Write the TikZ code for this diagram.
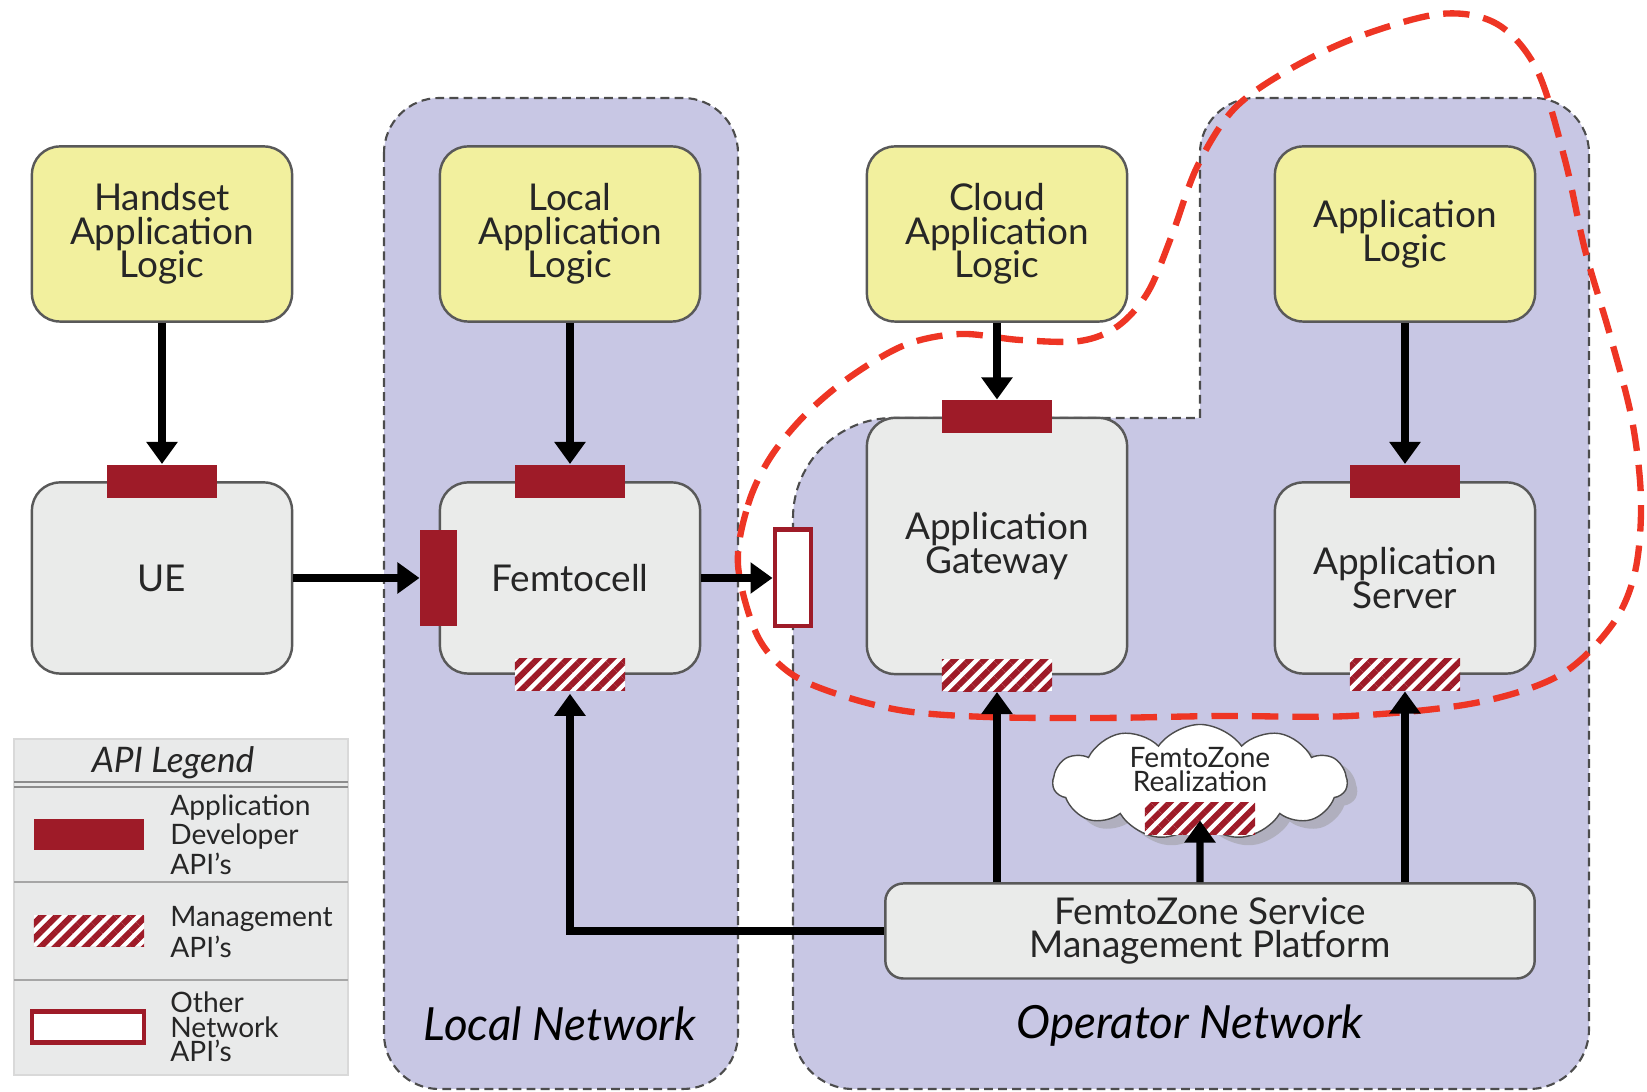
\documentclass[tikz,border=0pt]{standalone}
\usepackage{fontspec}
\setmainfont{Lato}
\usetikzlibrary{arrows.meta, shapes.symbols, shadows, patterns.meta}
\definecolor{apired}{HTML}{9E1B28}
\definecolor{zonered}{HTML}{EE3524}
\definecolor{netblue}{HTML}{C8C7E4}
\definecolor{logicyellow}{HTML}{F2F09E}
\definecolor{boxgrey}{HTML}{EAEBEA}
\definecolor{legendgrey}{HTML}{E9EAEA}
\tikzstyle{box}=[draw=black!65, line width=0.7pt, rounded corners=0.28cm, align=center, minimum width=2.6cm, text=black!85, font=\fontsize{10.5}{9.6}\selectfont]
\tikzstyle{box logic}=[box, fill=logicyellow, minimum height=1.75cm]
\tikzstyle{box node}=[box, fill=boxgrey, minimum height=1.91cm]
\tikzstyle{api dev}=[fill=apired, inner sep=0, minimum width=1.1cm, minimum height=0.33cm]
\tikzstyle{api mgmt}=[inner sep=0, minimum width=1.1cm, minimum height=0.32cm, preaction={fill=white}, pattern={Lines[angle=45, distance=3pt, line width=1.7pt]}, pattern color=apired]
\tikzstyle{api other}=[draw=apired, line width=1.4pt, fill=white, inner sep=0, minimum width=0.36cm, minimum height=0.96cm]
\tikzstyle{region}=[fill=netblue, draw=black!70, line width=0.6pt, dash pattern=on 2.5pt off 1.5pt]
\tikzstyle{zone}=[draw=zonered, line width=1.8pt, dash pattern=on 7.5pt off 4pt]
\tikzstyle{flow}=[line width=2.1pt, -{Triangle[length=0.22cm, width=0.3cm]}]
\tikzstyle{net label}=[font=\fontsize{13}{13}\selectfont\itshape]
\tikzstyle{key text}=[anchor=west, align=left, text=black!85, font=\fontsize{8}{7}\selectfont]

\begin{document}
\begin{tikzpicture}[x=0.01cm, y=-0.01cm]
  \useasboundingbox (0,0) rectangle (1647,1092);

  % NETWORK AREAS
  \draw[region, rounded corners=0.55cm] (384,98) rectangle (738,1089);
  \draw[region] (793,518) .. controls (793,463) and (838,418) .. (893,418)
    -- (1200,418) -- (1200,153) .. controls (1200,123) and (1225,98) .. (1255,98)
    -- (1534,98) .. controls (1564,98) and (1589,123) .. (1589,153)
    -- (1589,1029) .. controls (1589,1062) and (1562,1089) .. (1529,1089)
    -- (853,1089) .. controls (820,1089) and (793,1062) .. (793,1029) -- cycle;
  \node[net label] (local-label) at (560,1024) {Local Network};
  \node[net label] (op-label) at (1190,1026) {Operator Network};

  % LOGIC BOXES
  \foreach \name/\x/\txt in {hand-logic/162/{Handset\\Application\\Logic},
      local-logic/570/{Local\\Application\\Logic},
      cloud-logic/997/{Cloud\\Application\\Logic},
      app-logic/1405/{Application\\Logic}}{
    \node[box logic] (\name) at (\x,234) {\txt};
  }

  % NETWORK ELEMENTS
  \node[box node] (ue) at (162,578) {UE};
  \node[box node] (femto) at (570,578) {Femtocell};
  \node[box node, minimum height=2.56cm] (gw) at (997,546) {Application\\Gateway};
  \node[box node] (server) at (1405,578) {Application\\Server};
  \node[box node, minimum width=6.49cm, minimum height=0.95cm, rounded corners=0.18cm]
    (plat) at (1210,931) {FemtoZone Service\\Management Platform};

  % APIS
  \foreach \n in {ue, femto, gw, server}{
    \node[api dev] (\n-api) at (\n.north) {};
  }
  \foreach \n in {femto, gw, server}{
    \node[api mgmt] (\n-mgmt) at (\n.south) {};
  }
  \node[api dev, minimum width=0.37cm, minimum height=0.96cm] (femto-in) at (femto.west) {};
  \node[api other] (femto-out) at (793,578) {};

  % FEMTOZONE CLOUD
  \node[cloud, cloud puffs=11, cloud puff arc=110, aspect=2.6, draw=black!70, fill=white,
    minimum width=2.94cm, minimum height=1.15cm,
    drop shadow={shadow xshift=0.1cm, shadow yshift=-0.08cm, fill=black!40}] (fz) at (1200,782) {};
  \node[font=\fontsize{8}{6.8}\selectfont, align=center, text=black!85] (fz-text) at (1200,770) {FemtoZone\\Realization};
  \node[api mgmt] (fz-mgmt) at (1200,819) {};

  % FEMTOZONE BOUNDARY
  \draw[zone] plot[smooth cycle, tension=0.55] coordinates {
    (738,565) (748,505) (770,458) (805,415) (850,377) (905,345) (960,334)
    (1020,340) (1080,341) (1118,326) (1148,292) (1172,235) (1197,167)
    (1233,110) (1285,72) (1355,38) (1440,14) (1497,24) (1537,70) (1565,160)
    (1585,250) (1610,335) (1632,420) (1641,500) (1635,572) (1612,625)
    (1560,675) (1475,703) (1350,716) (1220,716) (1100,718) (987,717)
    (905,711) (840,695) (790,673) (757,635)};

  % ARROWS
  \foreach \a/\b in {hand-logic/ue-api, local-logic/femto-api, cloud-logic/gw-api, app-logic/server-api}{
    \draw[flow] (\a) -- (\b);
  }
  \draw[flow] (ue) -- (femto-in);
  \draw[flow] (femto) -- (femto-out);
  \foreach \n in {gw-mgmt, fz, server-mgmt}{
    \draw[flow] (plat.north -| \n) -- (\n);
  }
  \draw[flow] (plat.west) -| (femto-mgmt);

  % LEGEND
  \node[draw=black!15, fill=legendgrey, minimum width=3.34cm, minimum height=3.36cm, inner sep=0] (legend) at (181,907) {};
  \node[font=\fontsize{10}{10}\selectfont\itshape, text=black!85] (legend-title) at (173,763) {API Legend};
  \draw[black!45, line width=0.7pt] (14,782) -- (348,782) (14,787) -- (348,787);
  \draw[black!35, line width=0.6pt] (14,882) -- (348,882) (14,980) -- (348,980);
  \node[api dev, minimum height=0.31cm] (key-dev) at (89,835) {};
  \node[api mgmt, minimum height=0.31cm] (key-mgmt) at (89,931) {};
  \node[api other, minimum width=1.12cm, minimum height=0.31cm] (key-other) at (88,1027) {};
  \node[key text] (key-dev-text) at (158,835) {Application\\Developer\\API's};
  \node[key text] (key-mgmt-text) at (158,932) {Management\\API's};
  \node[key text] (key-other-text) at (158,1027) {Other\\Network\\API's};
\end{tikzpicture}
\end{document}
